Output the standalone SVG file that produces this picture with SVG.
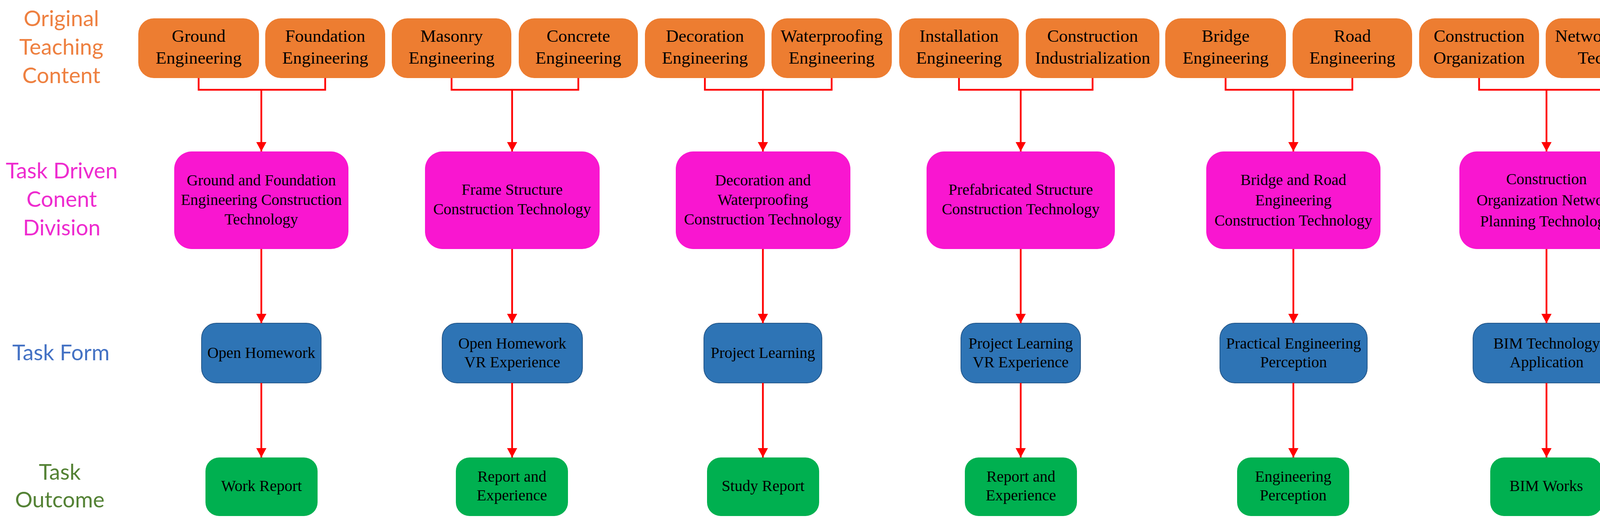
<svg xmlns="http://www.w3.org/2000/svg" width="4355" height="1345" viewBox="0 0 4355 1345">
<style>
.lab{font-family:Lato,"Liberation Sans",sans-serif;font-size:56px;text-anchor:middle}
.t{font-family:"Liberation Serif","Times New Roman",serif;fill:#000;text-anchor:middle}
.to{font-size:45px}
.tm{font-size:40px}
.tb{font-size:40px}
.tg{font-size:40px}
.o{fill:#ED7D31}
.m{fill:#F916D0}
.b{fill:#2E74B5;stroke:#24578A;stroke-width:2}
.g{fill:#00B050}
.c{fill:none;stroke:#FF0000;stroke-width:4.5}
</style>
<defs>
<marker id="ah" markerWidth="24" markerHeight="26" refX="24" refY="13" orient="auto" markerUnits="userSpaceOnUse">
<path d="M0,0 L24,13 L0,26 Z" fill="#FF0000"/>
</marker>
</defs>
<rect width="4355" height="1345" fill="#fff"/>

<g id="labels">
<text class="lab" fill="#EE8040"><tspan x="157" y="67">Original</tspan><tspan x="157" y="140">Teaching</tspan><tspan x="157" y="213">Content</tspan></text>
<text class="lab" fill="#EE2BCF"><tspan x="158" y="457">Task Driven</tspan><tspan x="158" y="530">Conent</tspan><tspan x="158" y="603">Division</tspan></text>
<text class="lab" fill="#4472C4" x="156" y="923">Task Form</text>
<text class="lab" fill="#548235"><tspan x="153" y="1229">Task</tspan><tspan x="153" y="1300">Outcome</tspan></text>
</g>

<g id="orig-1"><rect class="o" x="354" y="47" width="309" height="153" rx="40"/><text class="t to"><tspan x="508.5" y="107">Ground</tspan><tspan x="508.5" y="163">Engineering</tspan></text></g>
<g id="orig-2"><rect class="o" x="679" y="47" width="307" height="153" rx="40"/><text class="t to"><tspan x="832.5" y="107">Foundation</tspan><tspan x="832.5" y="163">Engineering</tspan></text></g>
<g id="orig-3"><rect class="o" x="1003" y="47" width="306" height="153" rx="40"/><text class="t to"><tspan x="1156" y="107">Masonry</tspan><tspan x="1156" y="163">Engineering</tspan></text></g>
<g id="orig-4"><rect class="o" x="1328" y="47" width="305" height="153" rx="40"/><text class="t to"><tspan x="1480.5" y="107">Concrete</tspan><tspan x="1480.5" y="163">Engineering</tspan></text></g>
<g id="orig-5"><rect class="o" x="1651" y="47" width="307" height="153" rx="40"/><text class="t to"><tspan x="1804.5" y="107">Decoration</tspan><tspan x="1804.5" y="163">Engineering</tspan></text></g>
<g id="orig-6"><rect class="o" x="1975" y="47" width="308" height="153" rx="40"/><text class="t to"><tspan x="2129" y="107">Waterproofing</tspan><tspan x="2129" y="163">Engineering</tspan></text></g>
<g id="orig-7"><rect class="o" x="2302" y="47" width="306" height="153" rx="40"/><text class="t to"><tspan x="2455" y="107">Installation</tspan><tspan x="2455" y="163">Engineering</tspan></text></g>
<g id="orig-8"><rect class="o" x="2626" y="47" width="342" height="153" rx="40"/><text class="t to"><tspan x="2797" y="107">Construction</tspan><tspan x="2797" y="163">Industrialization</tspan></text></g>
<g id="orig-9"><rect class="o" x="2983" y="47" width="309" height="153" rx="40"/><text class="t to"><tspan x="3137.5" y="107">Bridge</tspan><tspan x="3137.5" y="163">Engineering</tspan></text></g>
<g id="orig-10"><rect class="o" x="3309" y="47" width="306" height="153" rx="40"/><text class="t to"><tspan x="3462" y="107">Road</tspan><tspan x="3462" y="163">Engineering</tspan></text></g>
<g id="orig-11"><rect class="o" x="3633" y="47" width="307" height="153" rx="40"/><text class="t to"><tspan x="3786.5" y="107">Construction</tspan><tspan x="3786.5" y="163">Organization</tspan></text></g>
<g id="orig-12"><rect class="o" x="3957" y="47" width="376" height="153" rx="40"/><text class="t to"><tspan x="4145" y="107">Network Planning</tspan><tspan x="4145" y="163">Technology</tspan></text></g>

<g id="div-1"><rect class="m" x="446" y="388" width="446" height="250" rx="45"/><text class="t tm"><tspan x="669" y="475">Ground and Foundation</tspan><tspan x="669" y="525">Engineering Construction</tspan><tspan x="669" y="575">Technology</tspan></text></g>
<g id="div-2"><rect class="m" x="1088" y="388" width="447" height="250" rx="45"/><text class="t tm"><tspan x="1311" y="499">Frame Structure</tspan><tspan x="1311" y="549">Construction Technology</tspan></text></g>
<g id="div-3"><rect class="m" x="1730" y="388" width="447" height="250" rx="45"/><text class="t tm"><tspan x="1953" y="475">Decoration and</tspan><tspan x="1953" y="525">Waterproofing</tspan><tspan x="1953" y="575">Construction Technology</tspan></text></g>
<g id="div-4"><rect class="m" x="2372" y="388" width="482" height="250" rx="45"/><text class="t tm"><tspan x="2613" y="499">Prefabricated Structure</tspan><tspan x="2613" y="549">Construction Technology</tspan></text></g>
<g id="div-5"><rect class="m" x="3088" y="388" width="446" height="250" rx="45"/><text class="t tm"><tspan x="3311" y="474">Bridge and Road</tspan><tspan x="3311" y="526">Engineering</tspan><tspan x="3311" y="578">Construction Technology</tspan></text></g>
<g id="div-6"><rect class="m" x="3736" y="388" width="446" height="250" rx="45"/><text class="t tm"><tspan x="3959" y="472">Construction</tspan><tspan x="3959" y="526">Organization Network</tspan><tspan x="3959" y="580">Planning Technology</tspan></text></g>

<g id="form-1"><rect class="b" x="516" y="828" width="306" height="153" rx="38"/><text class="t tb" x="669" y="917">Open Homework</text></g>
<g id="form-2"><rect class="b" x="1132" y="828" width="359" height="153" rx="38"/><text class="t tb"><tspan x="1311.5" y="893">Open Homework</tspan><tspan x="1311.5" y="941">VR Experience</tspan></text></g>
<g id="form-3"><rect class="b" x="1802" y="828" width="302" height="153" rx="38"/><text class="t tb" x="1953" y="917">Project Learning</text></g>
<g id="form-4"><rect class="b" x="2460" y="828" width="306" height="153" rx="38"/><text class="t tb"><tspan x="2613" y="893">Project Learning</tspan><tspan x="2613" y="941">VR Experience</tspan></text></g>
<g id="form-5"><rect class="b" x="3123" y="828" width="377" height="153" rx="38"/><text class="t tb"><tspan x="3311.5" y="893">Practical Engineering</tspan><tspan x="3311.5" y="941">Perception</tspan></text></g>
<g id="form-6"><rect class="b" x="3771" y="828" width="377" height="153" rx="38"/><text class="t tb"><tspan x="3959.5" y="893">BIM Technology</tspan><tspan x="3959.5" y="941">Application</tspan></text></g>

<g id="out-1"><rect class="g" x="526" y="1172" width="287" height="150" rx="35"/><text class="t tg" x="669.5" y="1258">Work Report</text></g>
<g id="out-2"><rect class="g" x="1167" y="1172" width="287" height="150" rx="35"/><text class="t tg"><tspan x="1310.5" y="1234">Report and</tspan><tspan x="1310.5" y="1282">Experience</tspan></text></g>
<g id="out-3"><rect class="g" x="1810" y="1172" width="287" height="150" rx="35"/><text class="t tg" x="1953.5" y="1258">Study Report</text></g>
<g id="out-4"><rect class="g" x="2470" y="1172" width="287" height="150" rx="35"/><text class="t tg"><tspan x="2613.5" y="1234">Report and</tspan><tspan x="2613.5" y="1282">Experience</tspan></text></g>
<g id="out-5"><rect class="g" x="3167" y="1172" width="287" height="150" rx="35"/><text class="t tg"><tspan x="3310.5" y="1234">Engineering</tspan><tspan x="3310.5" y="1282">Perception</tspan></text></g>
<g id="out-6"><rect class="g" x="3815" y="1172" width="287" height="150" rx="35"/><text class="t tg" x="3958.5" y="1258">BIM Works</text></g>

<g id="connectors">
<polyline class="c" points="508.5,200 508.5,230 832.5,230 832.5,200"/>
<polyline class="c" points="1156,200 1156,230 1480.5,230 1480.5,200"/>
<polyline class="c" points="1804.5,200 1804.5,230 2129,230 2129,200"/>
<polyline class="c" points="2455,200 2455,230 2797,230 2797,200"/>
<polyline class="c" points="3137.5,200 3137.5,230 3462,230 3462,200"/>
<polyline class="c" points="3786.5,200 3786.5,230 4145,230 4145,200"/>
<line class="c" x1="669" y1="230" x2="669" y2="388" marker-end="url(#ah)"/>
<line class="c" x1="1311" y1="230" x2="1311" y2="388" marker-end="url(#ah)"/>
<line class="c" x1="1953" y1="230" x2="1953" y2="388" marker-end="url(#ah)"/>
<line class="c" x1="2613" y1="230" x2="2613" y2="388" marker-end="url(#ah)"/>
<line class="c" x1="3311" y1="230" x2="3311" y2="388" marker-end="url(#ah)"/>
<line class="c" x1="3959" y1="230" x2="3959" y2="388" marker-end="url(#ah)"/>
<line class="c" x1="669" y1="638" x2="669" y2="828" marker-end="url(#ah)"/>
<line class="c" x1="1311" y1="638" x2="1311" y2="828" marker-end="url(#ah)"/>
<line class="c" x1="1953" y1="638" x2="1953" y2="828" marker-end="url(#ah)"/>
<line class="c" x1="2613" y1="638" x2="2613" y2="828" marker-end="url(#ah)"/>
<line class="c" x1="3311" y1="638" x2="3311" y2="828" marker-end="url(#ah)"/>
<line class="c" x1="3959" y1="638" x2="3959" y2="828" marker-end="url(#ah)"/>
<line class="c" x1="669" y1="981" x2="669" y2="1172" marker-end="url(#ah)"/>
<line class="c" x1="1311" y1="981" x2="1311" y2="1172" marker-end="url(#ah)"/>
<line class="c" x1="1953" y1="981" x2="1953" y2="1172" marker-end="url(#ah)"/>
<line class="c" x1="2613" y1="981" x2="2613" y2="1172" marker-end="url(#ah)"/>
<line class="c" x1="3311" y1="981" x2="3311" y2="1172" marker-end="url(#ah)"/>
<line class="c" x1="3959" y1="981" x2="3959" y2="1172" marker-end="url(#ah)"/>
</g>
</svg>
